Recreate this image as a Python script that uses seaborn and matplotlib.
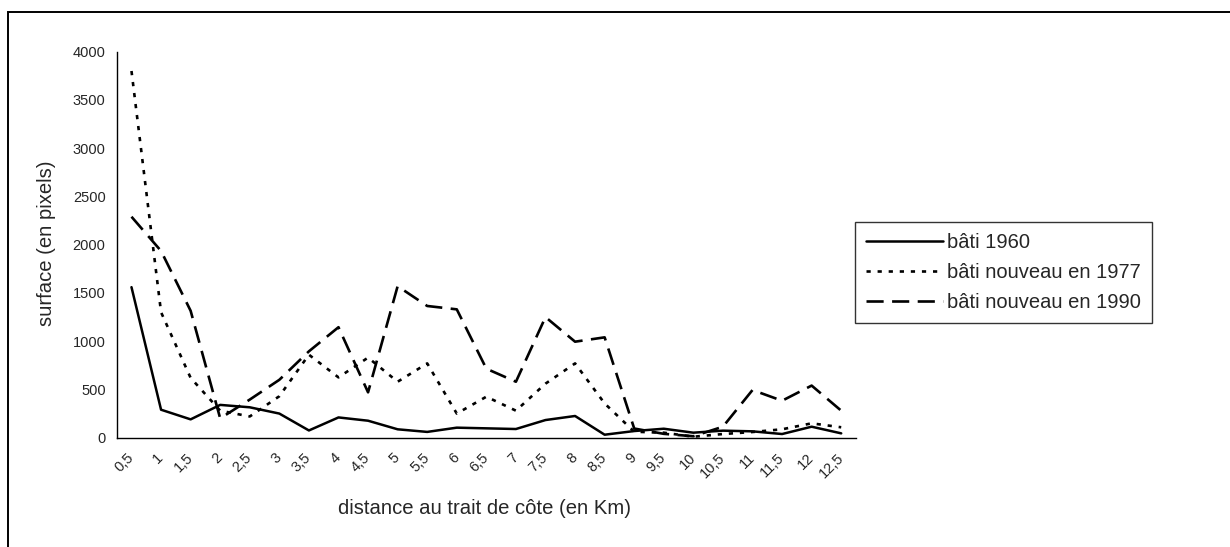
import numpy as np
import pandas as pd
import matplotlib
matplotlib.use("Agg")
import matplotlib.pyplot as plt
import matplotlib.patches as mpatches
import seaborn as sns

# distances (km) along the coast
distances = ['0,5', '1', '1,5', '2', '2,5', '3', '3,5', '4', '4,5', '5', '5,5', '6', '6,5',
             '7', '7,5', '8', '8,5', '9', '9,5', '10', '10,5', '11', '11,5', '12', '12,5']

bati_1960 = [1560, 290, 190, 340, 315, 250, 75, 210, 176, 87, 60, 104, 97, 90,
             183, 225, 31, 69, 93, 52, 73, 66, 38, 114, 45]
bati_1977 = [3800, 1300, 620, 280, 220, 430, 860, 625, 830, 580, 770, 250, 425, 280,
             560, 770, 355, 62, 52, 10, 38, 59, 87, 149, 108]
bati_1990 = [2290, 1935, 1315, 200, 395, 600, 895, 1145, 470, 1570, 1365, 1330, 715, 580,
             1250, 995, 1040, 95, 40, 15, 114, 494, 383, 540, 280]

series = {
    'bâti 1960': bati_1960,
    'bâti nouveau en 1977': bati_1977,
    'bâti nouveau en 1990': bati_1990,
}
styles = {
    'bâti 1960': dict(linestyle='-', linewidth=1.8),
    'bâti nouveau en 1977': dict(linestyle=(0, (1.6, 2.6)), linewidth=1.9),
    'bâti nouveau en 1990': dict(linestyle=(0, (6.5, 3.2)), linewidth=1.9),
}

sns.set_style("white")
plt.rcParams['font.family'] = ['Liberation Sans', 'DejaVu Sans']

fig = plt.figure(figsize=(12.3, 5.47), dpi=100)
ax = fig.add_axes([116.7 / 1230, 1 - 437.7 / 547, (856 - 116.7) / 1230, (437.7 - 51.7) / 547])

pos = np.arange(len(distances))
for name, vals in series.items():
    df = pd.DataFrame({'pos': pos, 'surface': vals})
    sns.lineplot(data=df, x='pos', y='surface', ax=ax, color='black', label=name,
                 **styles[name])

ax.set_xlim(-0.5, len(distances) - 0.5)
ax.set_ylim(0, 4000)
ax.set_yticks(np.arange(0, 4001, 500))
ax.set_xticks(pos)
ax.set_xticklabels(distances, rotation=45, ha='right', va='center', rotation_mode='anchor')
ax.set_xticks(np.arange(-0.5, len(distances), 1), minor=True)
ax.tick_params(axis='x', which='major', length=0, pad=13, labelsize=10.5)
ax.tick_params(axis='x', which='minor', length=5, width=1, color='black', direction='out')
ax.tick_params(axis='y', which='major', length=5, width=1, color='black', direction='out',
               labelsize=10.5, pad=3)

for side in ['top', 'right']:
    ax.spines[side].set_visible(False)
for side in ['left', 'bottom']:
    ax.spines[side].set_color('black')
    ax.spines[side].set_linewidth(1.0)

ax.set_xlabel('')
ax.set_ylabel('')
fig.text(485 / 1230, 1 - 509 / 547, 'distance au trait de côte (en Km)', ha='center', va='center',
         fontsize=14.6)
fig.text(47 / 1230, 1 - 243 / 547, 'surface (en pixels)', ha='center', va='center',
         rotation=90, fontsize=14.6)

leg = ax.legend(loc='upper left', bbox_to_anchor=(855 / 1230, 1 - 222 / 547),
                bbox_transform=fig.transFigure, frameon=True, fancybox=False,
                fontsize=14.5, handlelength=3.8, handletextpad=0.2, borderpad=0.55,
                labelspacing=0.55, borderaxespad=0)
leg.get_frame().set_edgecolor('black')
leg.get_frame().set_linewidth(1.0)

# outer chart area frame (cropped on the right and bottom)
frame = mpatches.Rectangle((8 / 1230, -0.1), 1.2, 1 - 12 / 547 + 0.1, transform=fig.transFigure,
                           fill=False, edgecolor='black', linewidth=1.4, clip_on=False)
fig.patches.append(frame)

fig.savefig('out.png', dpi=100)
